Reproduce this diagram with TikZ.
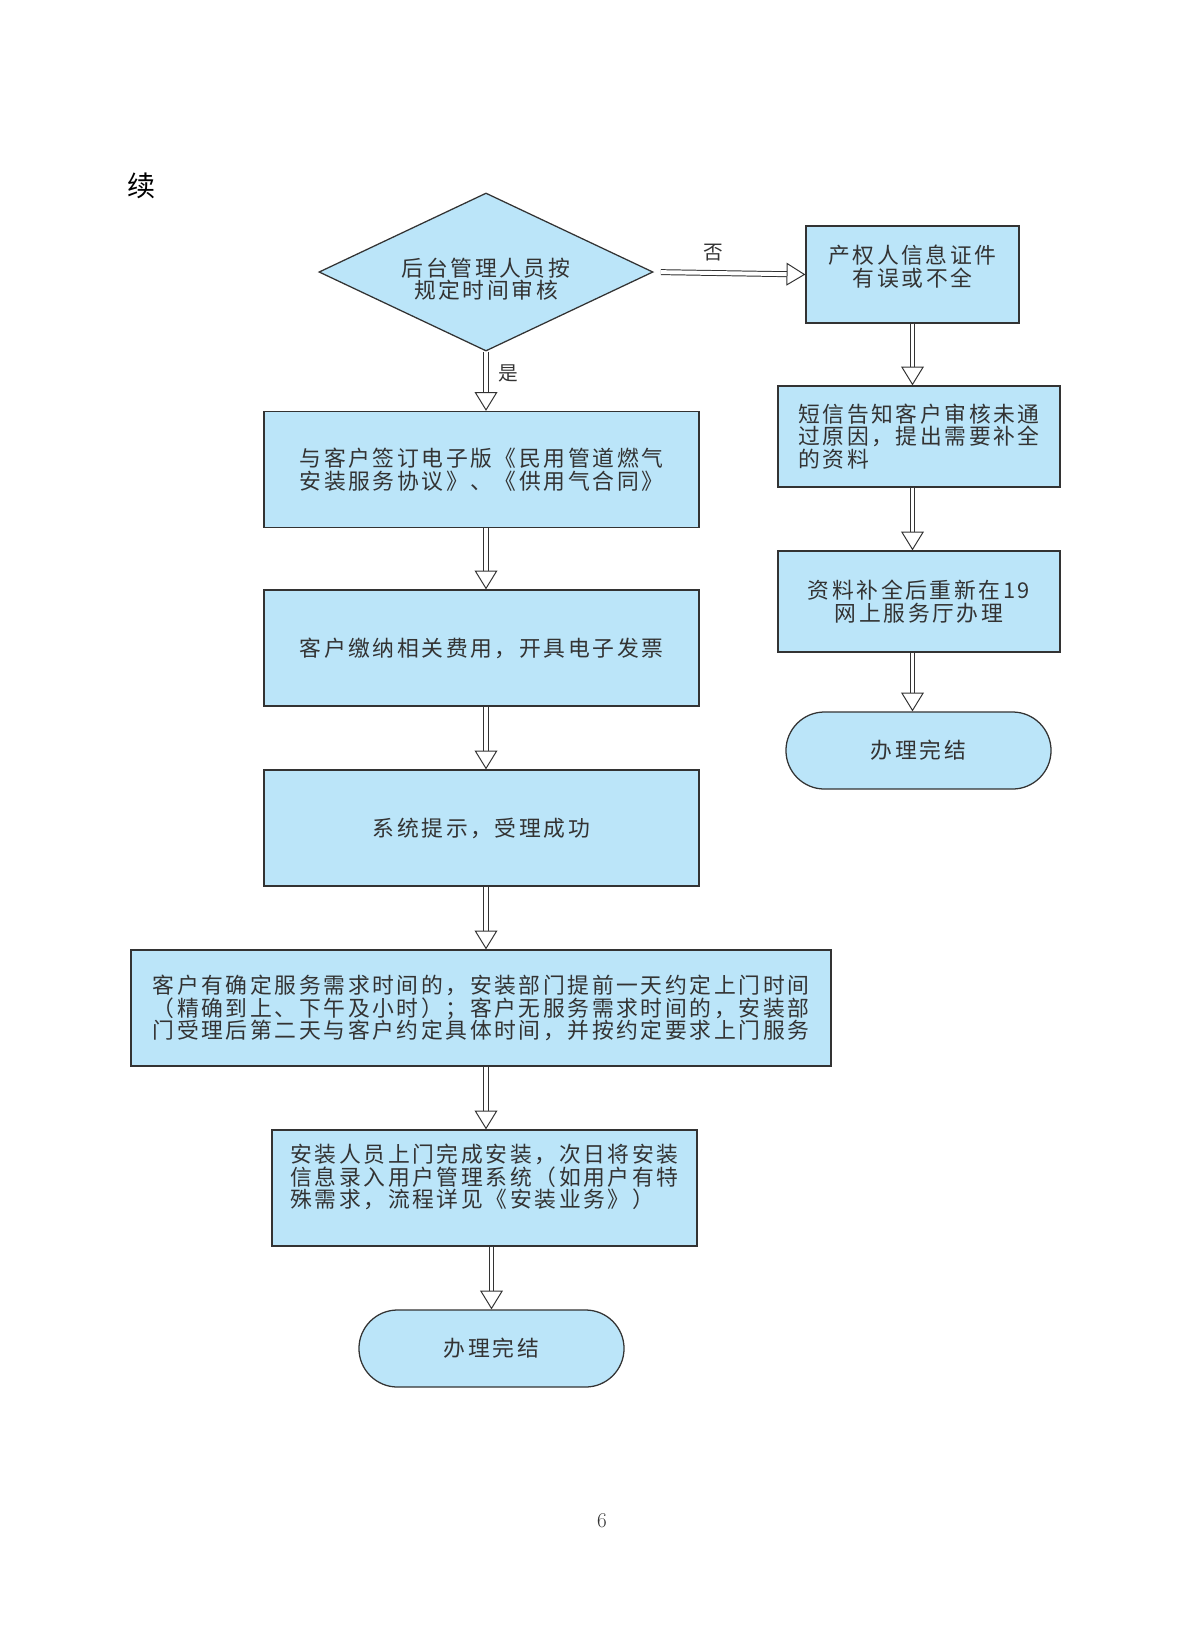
\documentclass[tikz,border=0pt]{standalone}
\usepackage{fontspec}
\usepackage{xcolor}
\usepackage{tikz}
\usetikzlibrary{arrows.meta,shapes.geometric,shapes.misc}
\newfontfamily\cjk[LetterSpace=12]{Noto Sans CJK SC}
\newfontfamily\cjkplain{Noto Sans CJK SC}
\definecolor{boxblue}{RGB}{187,229,249}
\definecolor{inkgray}{RGB}{51,51,51}
\tikzset{
  stepbox/.style={draw=inkgray, fill=boxblue, line width=0.9pt, rectangle, inner sep=0pt,
    text=inkgray, font=\cjk\fontsize{15.5}{16}\selectfont, align=center},
  decbox/.style={stepbox, diamond, aspect=2.1},
  endbox/.style={stepbox, rounded rectangle, minimum width=6.625cm, minimum height=1.925cm},
  flow/.style={draw=inkgray, line width=0.7pt, double=white, double distance=2.8pt,
    -{Triangle[open, length=0.47cm, width=0.57cm, fill=white]}},
  lbl/.style={text=inkgray, font=\cjkplain\fontsize{14}{16}\selectfont}
}
\begin{document}
\begin{tikzpicture}[thick, x=0.025cm, y=-0.025cm]
\useasboundingbox (0,0) rectangle (1204,1647);
%%%%% Title %%%%%
\node[font=\cjkplain\fontsize{20}{24}\selectfont] (title) at (142,186) {续};
%%%%% Left column %%%%%
\node[decbox, text height=1.38cm, minimum width=8.35cm, minimum height=3.95cm] (dec) at (486,272) {后台管理人员按\\规定时间审核};
\node[stepbox, minimum width=10.875cm, minimum height=2.9cm] (b1) at (481.5,469.5) {与客户签订电子版《民用管道燃气\\安装服务协议》、《供用气合同》};
\node[stepbox, minimum width=10.875cm, minimum height=2.9cm] (b2) at (481.5,648) {客户缴纳相关费用，开具电子发票};
\node[stepbox, minimum width=10.875cm, minimum height=2.9cm] (b3) at (481.5,828) {系统提示，受理成功};
\node[stepbox, minimum width=17.5cm, minimum height=2.9cm] (b4) at (481,1008) {客户有确定服务需求时间的，安装部门提前一天约定上门时间\\（精确到上、下午及小时）；客户无服务需求时间的，安装部\\门受理后第二天与客户约定具体时间，并按约定要求上门服务};
\node[stepbox, align=left, text depth=0.6cm, minimum width=10.625cm, minimum height=2.9cm] (b5) at (484.5,1188) {安装人员上门完成安装，次日将安装\\信息录入用户管理系统（如用户有特\\殊需求，流程详见《安装业务》）};
\node[endbox] (t1) at (491.5,1348.5) {办理完结};
%%%%% Right column %%%%%
\node[stepbox, text depth=0.45cm, minimum width=5.325cm, minimum height=2.425cm] (r1) at (912.5,274.5) {产权人信息证件\\有误或不全};
\node[stepbox, align=left, minimum width=7.05cm, minimum height=2.525cm] (r2) at (919,436.5) {短信告知客户审核未通\\过原因，提出需要补全\\的资料};
\node[stepbox, minimum width=7.05cm, minimum height=2.525cm] (r3) at (919,601.5) {资料补全后重新在19\\网上服务厅办理};
\node[endbox] (t2) at (918.5,750.5) {办理完结};
%%%%% Arrows %%%%%
\draw[flow] (dec.south) -- (dec.south |- b1.north);
\draw[flow, shorten <=0.18cm] (dec.east) -- (r1.west);
\foreach \a/\b in {b1/b2,b2/b3,b3/b4,b4/b5}{
\draw[flow] (\a.south -| dec.south) -- (\b.north -| dec.south);
}
\draw[flow] (b5.south -| t1.north) -- (t1.north);
\foreach \a/\b in {r1/r2,r2/r3,r3/t2}{
\draw[flow] (\a.south -| r1.south) -- (\b.north -| r1.south);
}
\node[lbl] (yes) at (508,373) {是};
\node[lbl] (no) at (713,253) {否};
%%%%% Page number %%%%%
\node[text=inkgray, font=\fontsize{15}{18}\selectfont] (page) at (602,1521) {6};
\end{tikzpicture}
\end{document}
